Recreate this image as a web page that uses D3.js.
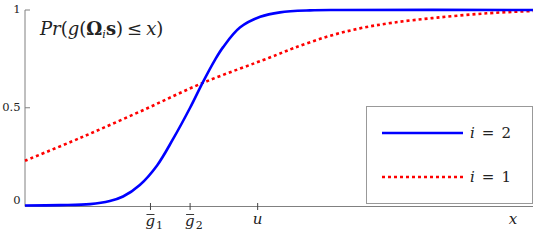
<!DOCTYPE html>
<html><head><meta charset="utf-8">
<script src="https://cdn.jsdelivr.net/npm/d3@7"></script>
<style>body{margin:0;background:#fff}svg{display:block}</style>
</head><body>
<script>
// data (x in arbitrary units 0..10)
const blueX = [0, 0.69, 1.28, 1.67, 1.93, 2.26, 2.60, 2.91, 3.25, 3.50, 3.74, 3.90, 4.23, 4.63, 5.02, 5.61, 6.20, 10];
const blueY = [0, 0.002, 0.007, 0.023, 0.046, 0.105, 0.205, 0.338, 0.5, 0.63, 0.745, 0.81, 0.91, 0.965, 0.988, 0.998, 1.0, 1.0];
const redX = [0, 1.08, 2.26, 3.50, 4.82, 5.28, 5.94, 6.59, 7.24, 8.11, 9.09, 10];
const redY = [0.229, 0.345, 0.48, 0.627, 0.757, 0.804, 0.863, 0.906, 0.935, 0.961, 0.983, 0.995];
const yTicks = [0, 0.5, 1];
const yTickLabels = ["0", "0.5", "1"];
const xTicks = [2.47, 3.25, 4.58];
const legendLabels = ["i = 2", "i = 1"];

const W = 539, H = 241;
const svg = d3.select("body").append("svg").attr("width", W).attr("height", H);
const x = d3.scaleLinear().domain([0, 10]).range([25, 533]);
const y = d3.scaleLinear().domain([0, 1]).range([205.5, 10]);
const axisColor = "#808080";
const FF = "DejaVu Serif";
function txt(sel, size) {
  return sel.attr("font-family", FF).attr("font-size", size).attr("fill", "#222");
}

svg.append("line").attr("x1", 25).attr("x2", 25).attr("y1", y(1)).attr("y2", 206.5)
  .attr("stroke", axisColor).attr("stroke-width", 1);
svg.append("line").attr("x1", 25).attr("x2", 533).attr("y1", 206.5).attr("y2", 206.5)
  .attr("stroke", axisColor).attr("stroke-width", 1);

yTicks.forEach((t, i) => {
  if (t > 0) svg.append("line").attr("x1", 25).attr("x2", 30).attr("y1", y(t)).attr("y2", y(t))
    .attr("stroke", axisColor);
  txt(svg.append("text").attr("x", 20.5).attr("y", y(t) + (t === 0 ? -2 : 3))
    .attr("text-anchor", "end"), 11.5).text(yTickLabels[i]);
});

xTicks.forEach(t => {
  svg.append("line").attr("x1", x(t)).attr("x2", x(t)).attr("y1", 203).attr("y2", 210)
    .attr("stroke", "#444").attr("stroke-width", 1);
});
function gbar(xc, sub) {
  const t = txt(svg.append("text").attr("x", xc - 5).attr("y", 226), 15);
  t.append("tspan").attr("font-style", "italic").text("g");
  t.append("tspan").attr("font-size", 11).attr("dy", 3).attr("dx", 1).text(sub);
  svg.append("line").attr("x1", xc - 4).attr("x2", xc + 4).attr("y1", 214.5).attr("y2", 214.5)
    .attr("stroke", "#222").attr("stroke-width", 0.9);
}
gbar(x(xTicks[0]), "1");
gbar(x(xTicks[1]), "2");
txt(svg.append("text").attr("x", x(xTicks[2])).attr("y", 224).attr("text-anchor", "middle"), 15)
  .attr("font-style", "italic").text("u");
txt(svg.append("text").attr("x", 513).attr("y", 224).attr("text-anchor", "middle"), 15)
  .attr("font-style", "italic").text("x");

const tt = txt(svg.append("text").attr("x", 40).attr("y", 35), 18);
tt.append("tspan").attr("font-style", "italic").text("Pr");
tt.append("tspan").text("(");
tt.append("tspan").attr("font-style", "italic").text("g");
tt.append("tspan").text("(");
tt.append("tspan").attr("font-weight", "bold").text("Ω");
tt.append("tspan").attr("font-style", "italic").attr("font-size", 11).attr("dy", 3).text("i");
tt.append("tspan").attr("font-weight", "bold").attr("dy", -3).text("s");
tt.append("tspan").text(")");
tt.append("tspan").attr("dx", 4).text("≤");
tt.append("tspan").attr("dx", 4).attr("font-style", "italic").text("x");
tt.append("tspan").text(")");

const line = d3.line().x(d => x(d[0])).y(d => y(d[1])).curve(d3.curveCatmullRom.alpha(0.5));
svg.append("path").datum(redX.map((v, i) => [v, redY[i]])).attr("d", line)
  .attr("fill", "none").attr("stroke", "#ff0000").attr("stroke-width", 2.6).attr("stroke-dasharray", "3,3");
svg.append("path").datum(blueX.map((v, i) => [v, blueY[i]])).attr("d", line)
  .attr("fill", "none").attr("stroke", "#0000ff").attr("stroke-width", 2.6);

svg.append("rect").attr("x", 366.5).attr("y", 106.5).attr("width", 166).attr("height", 97)
  .attr("fill", "#fff").attr("stroke", "#999").attr("stroke-width", 1);
const legColors = ["#0000ff", "#ff0000"];
const legY = [133, 177];
legendLabels.forEach((lab, i) => {
  svg.append("line").attr("x1", 382).attr("x2", 463).attr("y1", legY[i]).attr("y2", legY[i])
    .attr("stroke", legColors[i]).attr("stroke-width", 2.6)
    .attr("stroke-dasharray", i === 1 ? "3,3" : null);
  const parts = lab.split(" ");
  const t = txt(svg.append("text").attr("x", 470).attr("y", legY[i] + 5), 15);
  t.append("tspan").attr("font-style", "italic").text(parts[0]);
  t.append("tspan").attr("dx", 7).text(parts[1]);
  t.append("tspan").attr("dx", 7).text(parts[2]);
});
</script>
</body></html>
